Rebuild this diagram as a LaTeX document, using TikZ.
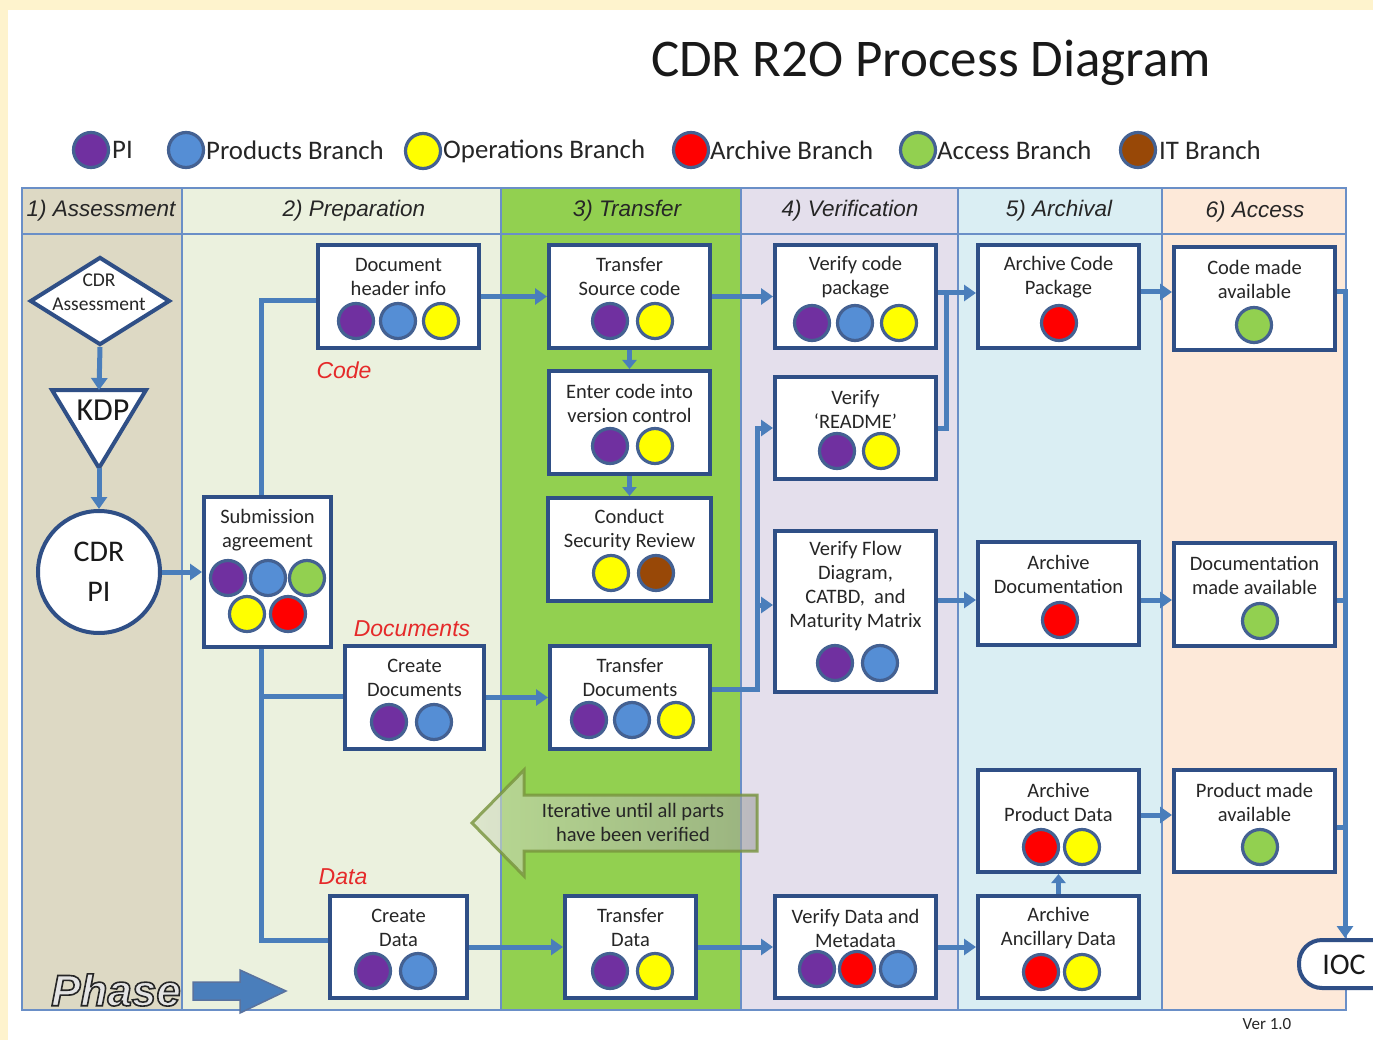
\documentclass[tikz,border=0pt]{standalone}
\usepackage{fontspec}
\setmainfont{Carlito}
\newfontfamily\arialf{Liberation Sans}
\usetikzlibrary{arrows.meta,shapes.geometric,calc}
\definecolor{bgyel}{HTML}{FEF3CD}
\definecolor{cA}{HTML}{DDD9C4}
\definecolor{cB}{HTML}{EBF1DE}
\definecolor{cC}{HTML}{92D050}
\definecolor{cD}{HTML}{E4DFEC}
\definecolor{cE}{HTML}{DAEEF3}
\definecolor{cF}{HTML}{FDE9D9}
\definecolor{tlc}{HTML}{6A8FC7}
\definecolor{bord}{HTML}{2F4F86}
\definecolor{connc}{HTML}{4A7EBB}
\definecolor{pPI}{HTML}{7030A0}
\definecolor{pPB}{HTML}{558ED5}
\definecolor{pOB}{HTML}{FFFF00}
\definecolor{pAB}{HTML}{FF0000}
\definecolor{pAC}{HTML}{92D050}
\definecolor{pIT}{HTML}{984807}
\definecolor{redlab}{HTML}{E52A2A}
\definecolor{itL}{HTML}{D3DFC0}
\definecolor{itR}{HTML}{A0A0A0}
\definecolor{itB}{HTML}{77933C}
\definecolor{phgray}{HTML}{E4E4E4}
\tikzset{
 pbox/.style={draw=bord, line width=4pt, fill=white, inner sep=0pt},
 btext/.style={font=\fontsize{20.5}{24}\selectfont, align=center, text=black!85, inner sep=0pt},
 dotc/.style={circle, draw=bord!90, line width=3.2pt, minimum size=35pt, inner sep=0pt},
 wire/.style={draw=connc, line width=5pt},
 arr/.style={wire, -{Triangle[length=12pt,width=16pt]}},
 sarr/.style={wire, -{Triangle[length=9pt,width=14pt]}},
 hdr/.style={font=\arialf\itshape\fontsize{22.5}{26}\selectfont, text=black!85},
 redl/.style={font=\arialf\itshape\fontsize{23}{27}\selectfont, text=redlab},
 legt/.style={font=\fontsize{26.8}{30}\selectfont, anchor=west, inner sep=0pt, text=black!85},
 tl/.style={draw=tlc, line width=1.4pt},
 phs/.style={font=\arialf\bfseries\itshape\fontsize{44}{50}\selectfont, inner sep=0pt},
}
\newcommand{\procbox}[7]{%
 \node[pbox, minimum width={#4-#2}, minimum height={#5-#3}] (#1) at ({(#2+#4)/2},{(#3+#5)/2}) {};
 \node[btext] (#1-t) at ({(#2+#4)/2},#7) {#6};
}
\newcommand{\pdot}[4]{\node[dotc, fill=#4] (#1) at (#2,#3) {};}
\newcommand{\outlinetext}[1]{\special{pdf:literal direct 2 Tr 1.6 w 0.15 G}#1\special{pdf:literal direct 0 Tr}}
\begin{document}
\begin{tikzpicture}[x=1pt,y=-1pt]
\useasboundingbox (0,0) rectangle (1373,1040);
\clip (0,0) rectangle (1373,1040);
\fill[bgyel] (0,0) rectangle (1373,1040);
\fill[white] (8,10) rectangle (1373,1040);
% columns
\fill[cA] (22,188) rectangle (182,1010);
\fill[cB] (182,188) rectangle (501,1010);
\fill[cC] (501,188) rectangle (741,1010);
\fill[cD] (741,188) rectangle (958,1010);
\fill[cE] (958,188) rectangle (1162,1010);
\fill[cF] (1162,188) rectangle (1346,1010);
\draw[tl] (22,188) rectangle (1346,1010);
\draw[tl] (22,234) -- (1346,234);
\foreach \x in {182,501,741,958,1162} \draw[tl] (\x,188) -- (\x,1010);
% headers
\node[hdr] (h1) at (101,211) {1) Assessment};
\node[hdr] (h2) at (354,211) {2) Preparation};
\node[hdr] (h3) at (627,211) {3) Transfer};
\node[hdr] (h4) at (850,211) {4) Verification};
\node[hdr] (h5) at (1059,211) {5) Archival};
\node[hdr] (h6) at (1255,212) {6) Access};
% title
\node[font=\fontsize{53}{60}\selectfont, anchor=base, inner sep=0pt, text=black!90] (title) at (931,77) {CDR R2O Process Diagram};
% legend
\pdot{lg1}{91}{150}{pPI}
\node[legt] (lt1) at (112,150) {PI};
\pdot{lg2}{186}{150}{pPB}
\node[legt] (lt2) at (206,150) {Products Branch};
\pdot{lg3}{423}{151}{pOB}
\node[legt] (lt3) at (443,151) {Operations Branch};
\pdot{lg4}{691}{150}{pAB}
\node[legt] (lt4) at (710,150) {Archive Branch};
\pdot{lg5}{918}{150}{pAC}
\node[legt] (lt5) at (937,150) {Access Branch};
\pdot{lg6}{1138}{150}{pIT}
\node[legt] (lt6) at (1159,150) {IT Branch};
% column 1
\node[diamond, draw=bord, line width=4pt, fill=white, minimum width=140pt, minimum height=88pt, inner sep=0pt] (cdra) at (100,301) {};
\node[btext, font=\fontsize{19.5}{24}\selectfont] (cdra-t) at (99,292) {CDR\\Assessment};
\coordinate (kdpT) at (99,390);
\coordinate (kdpB) at (99,468);
\draw[draw=bord, fill=white, line width=4pt, line join=miter] (52,390) -- (146,390) -- (kdpB) -- cycle;
\node[font=\fontsize{32}{36}\selectfont, inner sep=0pt, text=black!90] (kdp) at (103,410) {KDP};
\node[circle, draw=bord, line width=4pt, fill=white, minimum size=122pt, inner sep=0pt, align=center, font=\fontsize{30}{40}\selectfont, text=black!90] (pi) at (99,572) {CDR\\PI};
% process boxes
\procbox{dhi}{318}{245}{479}{348}{Document\\header info}{277}
\procbox{sub}{204}{497}{331}{647}{Submission\\agreement}{530}
\procbox{cdoc}{345}{646}{484}{749}{Create\\Documents}{678}
\procbox{cdat}{330}{896}{467}{998}{Create\\Data}{928}
\procbox{tsc}{549}{245}{710}{348}{Transfer\\Source code}{277}
\procbox{ecv}{549}{371}{710}{474}{Enter code into\\version control}{403}
\procbox{csr}{548}{498}{711}{601}{Conduct\\Security Review}{530}
\procbox{tdoc}{550}{646}{710}{749}{Transfer\\Documents}{678}
\procbox{tdat}{565}{896}{696}{998}{Transfer\\Data}{928}
\procbox{vcp}{775}{245}{936}{348}{Verify code\\package}{277}
\procbox{vrm}{775}{377}{936}{479}{Verify\\‘README’}{409}
\procbox{vfd}{775}{531}{936}{692}{Verify Flow\\Diagram,\\CATBD,\ \ and\\Maturity Matrix}{586}
\procbox{vdm}{775}{896}{936}{998}{Verify Data and\\Metadata}{928}
\procbox{acp}{978}{245}{1139}{348}{Archive Code\\Package}{277}
\procbox{adoc}{978}{542}{1139}{645}{Archive\\Documentation}{574}
\procbox{apd}{978}{770}{1139}{872}{Archive\\Product Data}{802}
\procbox{aad}{978}{896}{1139}{998}{Archive\\Ancillary Data}{928}
\procbox{cma}{1174}{247}{1335}{350}{Code made\\available}{279}
\procbox{dma}{1174}{543}{1335}{646}{Documentation\\made available}{575}
\procbox{pma}{1174}{770}{1335}{872}{Product made\\available}{802}
% dots
\pdot{dhi1}{356}{321}{pPI}\pdot{dhi2}{398}{321}{pPB}\pdot{dhi3}{441}{321}{pOB}
\pdot{sub1}{228}{578}{pPI}\pdot{sub2}{268}{578}{pPB}\pdot{sub3}{307}{578}{pAC}
\pdot{sub4}{247}{614}{pOB}\pdot{sub5}{288}{614}{pAB}
\pdot{cdoc1}{389}{722}{pPI}\pdot{cdoc2}{434}{722}{pPB}
\pdot{cdat1}{373}{971}{pPI}\pdot{cdat2}{418}{971}{pPB}
\pdot{tsc1}{610}{321}{pPI}\pdot{tsc2}{655}{321}{pOB}
\pdot{ecv1}{610}{446}{pPI}\pdot{ecv2}{655}{446}{pOB}
\pdot{csr1}{611}{573}{pOB}\pdot{csr2}{656}{573}{pIT}
\pdot{tdoc1}{589}{720}{pPI}\pdot{tdoc2}{632}{720}{pPB}\pdot{tdoc3}{676}{720}{pOB}
\pdot{tdat1}{610}{971}{pPI}\pdot{tdat2}{655}{971}{pOB}
\pdot{vcp1}{812}{323}{pPI}\pdot{vcp2}{855}{323}{pPB}\pdot{vcp3}{899}{323}{pOB}
\pdot{vrm1}{837}{451}{pPI}\pdot{vrm2}{881}{451}{pOB}
\pdot{vfd1}{835}{663}{pPI}\pdot{vfd2}{880}{663}{pPB}
\pdot{vdm1}{817}{969}{pPI}\pdot{vdm2}{857}{969}{pAB}\pdot{vdm3}{898}{969}{pPB}
\pdot{acp1}{1059}{323}{pAB}
\pdot{adoc1}{1060}{620}{pAB}
\pdot{apd1}{1041}{847}{pAB}\pdot{apd2}{1082}{847}{pOB}
\pdot{aad1}{1041}{972}{pAB}\pdot{aad2}{1082}{972}{pOB}
\pdot{cma1}{1254}{325}{pAC}
\pdot{dma1}{1260}{621}{pAC}
\pdot{pma1}{1260}{847}{pAC}
% red labels
\node[redl] (lcode) at (344,370) {Code};
\node[redl] (ldocs) at (412,629) {Documents};
\node[redl] (ldata) at (343,877) {Data};
% IOC
\node[draw=bord, line width=4pt, fill=white, rounded corners=23pt, minimum width=120pt, minimum height=48pt] (ioc) at (1359,964) {};
\node[font=\fontsize{30}{34}\selectfont, inner sep=0pt, text=black!90] (ioc-t) at (1344,965) {IOC};
% junction coordinates
\coordinate (cx1) at (261,301);
\coordinate (cx2) at (261,940);
\coordinate (cx3) at (261,696);
\coordinate (vj) at (757,689);
\coordinate (vj2) at (757,605);
\coordinate (mj) at (946,293);
\coordinate (bj) at (1345,292);
\coordinate (bj2) at (1345,600);
\coordinate (bj3) at (1345,827);
\coordinate (py) at (1160,815);
% connectors column 1
\draw[arr] (cdra.south) -- (kdpT);
\draw[arr] (kdpB) -- (pi.north);
\draw[arr] (pi.east) -- (sub.west);
% preparation
\draw[wire] (sub.north -| cx1) -- (cx1) -- (dhi.west |- cx1);
\draw[wire] (sub.south -| cx2) -- (cx2) -- (cdat.west |- cx2);
\draw[wire] (cx3) -- (cdoc.west |- cx3);
% transfer
\draw[arr] (dhi.east) -- (tsc.west);
\draw[arr] (cdoc.east) -- (tdoc.west);
\draw[arr] (cdat.east) -- (tdat.west);
\draw[sarr] (tsc.south) -- (ecv.north);
\draw[sarr] (ecv.south) -- (csr.north);
% verification
\draw[arr] (tsc.east) -- (vcp.west);
\draw[arr] (tdoc.east |- vj) -- (vj) -- (vj |- vrm.west) -- (vrm.west);
\draw[arr] (vj2) -- (vfd.west |- vj2);
\draw[arr] (tdat.east) -- (vdm.west);
% archival
\draw[wire] (vcp.east |- mj) -- (mj) -- (mj |- vrm.east) -- (vrm.east);
\draw[arr] (mj) -- (acp.west |- mj);
\draw[arr] (vfd.east |- bj2) -- (adoc.west |- bj2);
\draw[arr] (vdm.east) -- (aad.west);
\draw[sarr] (aad.north) -- (apd.south);
% access
\draw[arr] (acp.east |- bj) -- (cma.west |- bj);
\draw[arr] (adoc.east |- bj2) -- (dma.west |- bj2);
\draw[arr] (apd.east |- py) -- (pma.west |- py);
\draw[wire] (dma.east |- bj2) -- (bj2);
\draw[wire] (pma.east |- bj3) -- (bj3);
\draw[arr] (cma.east |- bj) -- (bj) -- (ioc.north -| bj);
% iterative arrow
\path[left color=itL, right color=itR, fill opacity=0.6, draw=itB, draw opacity=0.8, line width=3pt]
  (472,823) -- (524,770) -- (524,795) -- (757,795) -- (757,851) -- (524,851) -- (524,876) -- cycle;
\node[btext] (itxt) at (633,822) {Iterative until all parts\\have been verified};
% phase
\node[phs, text=phgray] (phase) at (116,990) {\outlinetext{Phase}};
\draw[fill=connc, draw=bord!80, line width=1.5pt, line join=miter] (193,982) -- (240,982) -- (240,970) -- (286,991) -- (240,1013) -- (240,1000) -- (193,1000) -- cycle;
% version
\node[font=\fontsize{17}{20}\selectfont, text=black!85] (ver) at (1267,1024) {Ver 1.0};
\end{tikzpicture}
\end{document}
